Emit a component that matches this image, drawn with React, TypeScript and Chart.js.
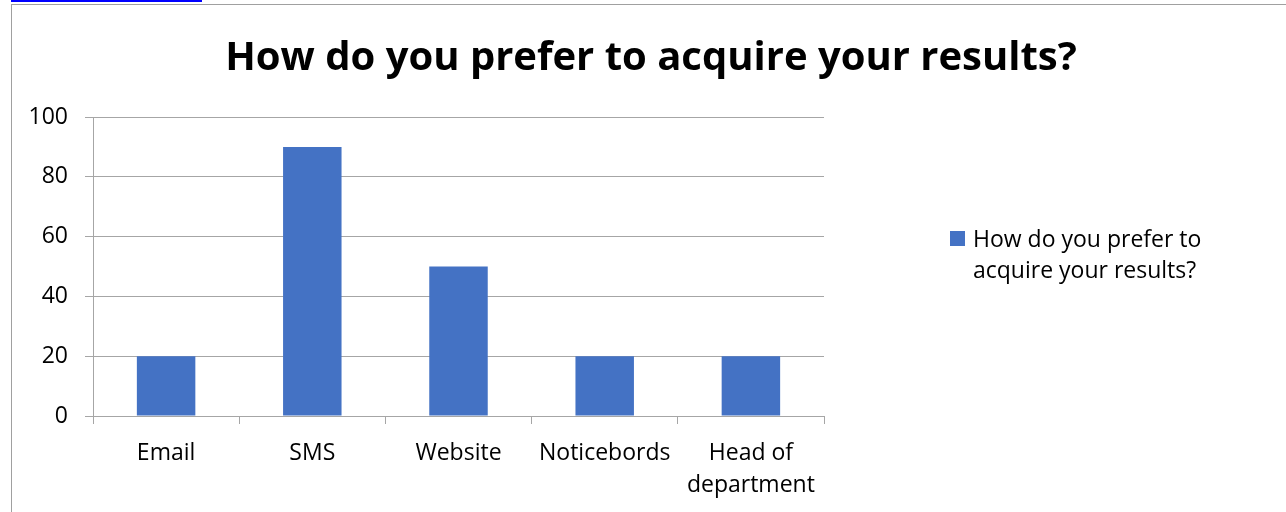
import React, { useEffect, useRef } from "react";
import { Chart, registerables } from "chart.js";

Chart.register(...registerables);

const chartTitle = "How do you prefer to acquire your results?";
const seriesName = "How do you prefer to acquire your results?";
const legendLines = ["How do you prefer to", "acquire your results?"];
const categories: (string | string[])[] = ["Email", "SMS", "Website", "Noticebords", ["Head of", "department"]];
const values = [20, 90, 50, 20, 20];
const yMin = 0;
const yMax = 100;
const yStep = 20;

const BAR_COLOR = "#4472C4";
const GRID_COLOR = "#a6a6a6";
const FONT = "'Open Sans', 'DejaVu Sans', sans-serif";

const decorPlugin = {
  id: "decor",
  afterDraw(chart: any) {
    const ctx = chart.ctx as CanvasRenderingContext2D;
    ctx.save();
    // title
    ctx.fillStyle = "#000000";
    ctx.font = `bold 40px ${FONT}`;
    ctx.textAlign = "center";
    ctx.textBaseline = "alphabetic";
    ctx.fillText(chartTitle, 651, 70);
    // legend
    const ds = chart.data.datasets[0];
    ctx.fillStyle = ds.backgroundColor;
    ctx.fillRect(950, 231, 15, 15);
    ctx.fillStyle = "#000000";
    ctx.font = `23px ${FONT}`;
    ctx.textAlign = "left";
    legendLines.forEach((line, i) => {
      ctx.fillText(line, 973, 247 + i * 31);
    });
    ctx.restore();
  },
};

export default function App() {
  const canvasRef = useRef<HTMLCanvasElement | null>(null);

  useEffect(() => {
    document.body.style.margin = "0";
    document.body.style.overflow = "hidden";
    const canvas = canvasRef.current;
    if (!canvas) return;
    const chart = new Chart(canvas, {
      type: "bar",
      data: {
        labels: categories,
        datasets: [
          {
            label: seriesName,
            data: values,
            backgroundColor: BAR_COLOR,
            borderWidth: 0,
            categoryPercentage: 1,
            barPercentage: 0.4,
          },
        ],
      },
      options: {
        animation: false,
        responsive: false,
        maintainAspectRatio: false,
        layout: { padding: { left: 0, top: 117, right: 462, bottom: 0 } },
        plugins: {
          legend: { display: false },
          title: { display: false },
          tooltip: { enabled: false },
        },
        scales: {
          x: {
            afterFit: (scale: any) => {
              scale.height = 96;
            },
            grid: {
              display: true,
              drawOnChartArea: false,
              drawTicks: true,
              tickLength: 8,
              color: GRID_COLOR,
              offset: true,
            },
            border: { display: true, color: GRID_COLOR, width: 1 },
            ticks: {
              color: "#000000",
              font: { family: FONT, size: 23, lineHeight: 1.4 },
              padding: 13,
              maxRotation: 0,
              autoSkip: false,
            },
          },
          y: {
            min: yMin,
            max: yMax,
            afterFit: (scale: any) => {
              scale.width = 93;
            },
            grid: {
              color: GRID_COLOR,
              tickLength: 8,
              drawTicks: true,
            },
            border: { display: true, color: GRID_COLOR, width: 1 },
            ticks: {
              stepSize: yStep,
              color: "#000000",
              font: { family: FONT, size: 23 },
              padding: 17,
            },
          },
        },
      },
      plugins: [decorPlugin],
    });
    return () => chart.destroy();
  }, []);

  return (
    <div style={{ position: "fixed", left: 0, top: 0, width: 1286, height: 512, overflow: "hidden", background: "#ffffff" }}>
      <div style={{ position: "absolute", left: 11, top: 0, width: 191, height: 2, background: "#0000ff" }} />
      <div
        style={{
          position: "absolute",
          left: 11,
          top: 4,
          width: 1300,
          height: 540,
          border: "1px solid #a0a0a0",
          boxSizing: "border-box",
        }}
      />
      <canvas ref={canvasRef} width={1286} height={512} style={{ position: "absolute", left: 0, top: 0, width: 1286, height: 512 }} />
    </div>
  );
}
